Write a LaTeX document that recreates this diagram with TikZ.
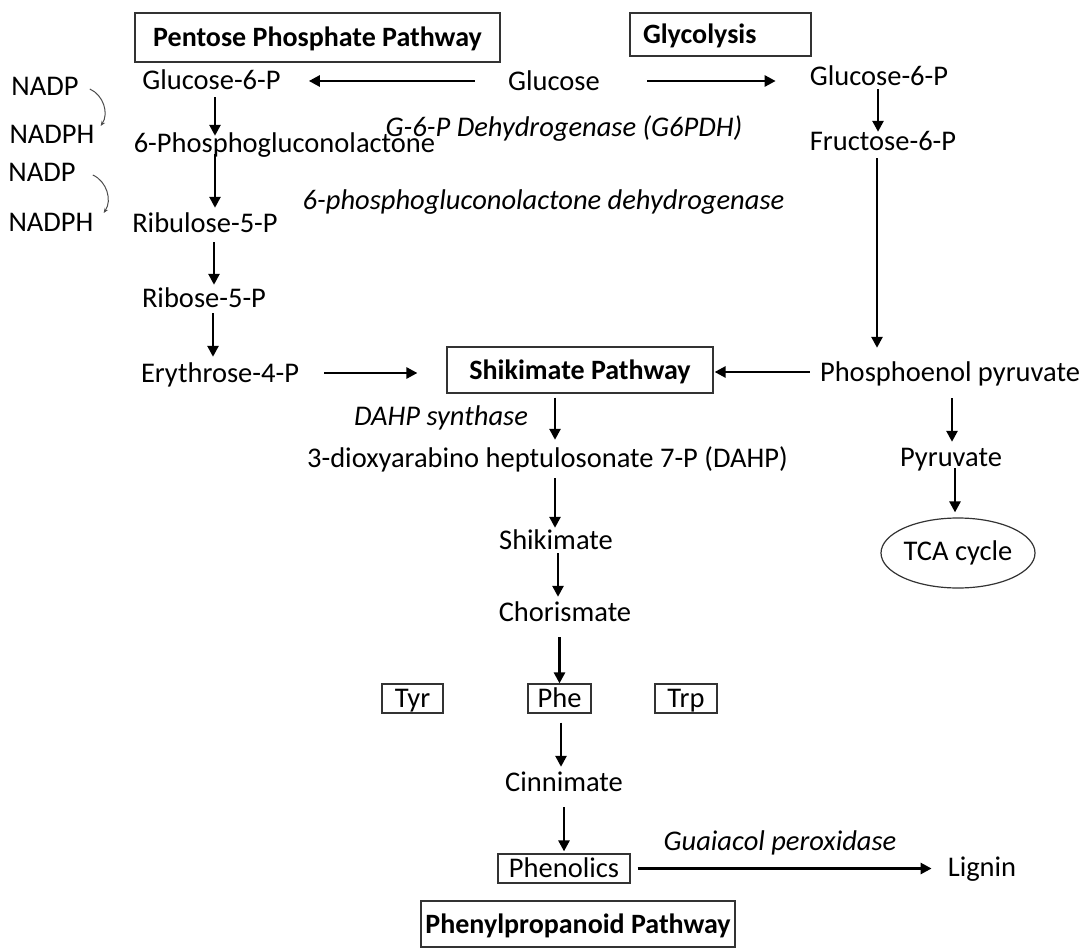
\documentclass[tikz,border=0pt]{standalone}
\usepackage{fontspec}
\setmainfont{Carlito}
\usepackage{tikz}
\usetikzlibrary{arrows.meta,shapes.geometric}

\begin{document}
\begin{tikzpicture}[x=1pt,y=-1pt]
\tikzstyle{every node}+=[inner sep=0pt,font=\fontsize{28.5}{34}\selectfont]
\tikzstyle{txt}=[text height=21.2pt,text depth=2.8pt]
\tikzstyle{enz}=[txt,font=\fontsize{28.5}{34}\selectfont\itshape]
\tikzstyle{box}=[draw=black!80,line width=1.2pt,txt,font=\fontsize{28}{34}\selectfont\bfseries]
\tikzstyle{aa}=[draw=black!80,line width=1.2pt,txt]
\tikzstyle{arr}=[line width=2.6pt,-{Triangle[length=11pt,width=11pt]}]
\tikzstyle{cof}=[black!70,line width=1pt,-{Stealth[length=5pt,width=4pt]}]
\useasboundingbox (0,0) rectangle (1083,949);
\node[box,minimum width=365pt,minimum height=49pt] (ppp) at (317.5,37.5) {Pentose Phosphate Pathway};
\node[box,text width=155pt,inner xsep=13pt,minimum height=43pt] (gly) at (720.5,34.5) {Glycolysis};
\node[txt] (glc) at (554,81) {Glucose};
\node[txt] (g6pL) at (211.5,80) {Glucose-6-P};
\node[txt] (g6pR) at (879,76) {Glucose-6-P};
\node[txt] (f6p) at (883,141) {Fructose-6-P};
\node[txt] (pgl) at (284.5,143) {6-Phosphogluconolactone};
\node[txt] (ribu) at (205,223) {Ribulose-5-P};
\node[txt] (ribo) at (204,298) {Ribose-5-P};
\node[txt] (ery) at (220,373) {Erythrose-4-P};
\node[box,minimum width=266pt,minimum height=46pt] (shik) at (580,370) {Shikimate Pathway};
\node[txt] (pep) at (950,372) {Phosphoenol pyruvate};
\node[txt] (pyr) at (951,457) {Pyruvate};
\node[ellipse,draw=black!80,line width=1.2pt,minimum width=154pt,minimum height=70pt] (tca) at (958,553) {TCA cycle};
\node[txt] (dahp) at (547.5,458) {3-dioxyarabino heptulosonate 7-P (DAHP)};
\node[txt] (skm) at (556,540) {Shikimate};
\node[txt] (chor) at (565,612) {Chorismate};
\node[aa,minimum width=61pt,minimum height=29pt] (tyr) at (412.5,698.5) {Tyr};
\node[aa,minimum width=63pt,minimum height=29pt] (phe) at (559.5,698.5) {Phe};
\node[aa,minimum width=62pt,minimum height=29pt] (trp) at (686,698.5) {Trp};
\node[txt] (cinn) at (564,782) {Cinnimate};
\node[aa,minimum width=132pt,minimum height=29pt] (phen) at (564,868.5) {Phenolics};
\node[txt] (lig) at (982,867) {Lignin};
\node[box,minimum width=314pt,minimum height=46pt] (php) at (578,924) {Phenylpropanoid Pathway};
\node[enz] (g6pdh) at (564,127) {G-6-P Dehydrogenase (G6PDH)};
\node[enz] (pgd) at (543.5,200) {6-phosphogluconolactone dehydrogenase};
\node[enz] (dahps) at (441,416) {DAHP synthase};
\node[enz] (gpx) at (780,841) {Guaiacol peroxidase};
\node[txt] (nadp1) at (45,86) {NADP};
\node[txt] (nadph1) at (52,134) {NADPH};
\node[txt] (nadp2) at (42,172) {NADP};
\node[txt] (nadph2) at (51,222) {NADPH};
\draw[cof] ([shift={(11,3)}]nadp1.east) to[bend left=50] ([shift={(6,-8)}]nadph1.east);
\draw[cof] ([shift={(17,3)}]nadp2.east) to[bend left=50] ([shift={(10,-9)}]nadph2.east);
\draw[arr,shorten <=33pt,shorten >=28pt] (glc.west) -- (glc.west -| g6pL.east);
\draw[arr,shorten <=47pt,shorten >=34pt] (glc.east) -- (glc.east -| g6pR.west);
\draw[arr,shorten <=5pt,shorten >=-5pt] ([xshift=3.5pt]g6pL.south) -- ([xshift=3.5pt]g6pL.south |- pgl.north);
\draw[arr,shorten <=-1pt,shorten >=3pt] ([xshift=10pt]ribu.north |- pgl.south) -- ([xshift=10pt]ribu.north);
\draw[arr,shorten <=7pt,shorten >=1pt] ([xshift=9pt]ribu.south) -- ([xshift=9pt]ribu.south |- ribo.north);
\draw[arr,shorten <=3pt,shorten >=4pt] ([xshift=9pt]ribo.south) -- ([xshift=9pt]ribo.south |- ery.north);
\draw[arr,shorten <=1pt,shorten >=-3pt] ([xshift=-1pt]g6pR.south) -- ([xshift=-1pt]g6pR.south |- f6p.north);
\draw[arr,shorten <=5pt,shorten >=12pt] ([xshift=-6pt]f6p.south) -- ([xshift=-6pt]f6p.south |- pep.north);
\draw[arr,shorten <=14pt,shorten >=3pt] ([xshift=2pt]pep.south) -- ([xshift=2pt]pep.south |- pyr.north);
\draw[arr,shorten <=-1pt,shorten >=5pt] ([xshift=-3pt]tca.north |- pyr.south) -- ([xshift=-3pt]tca.north);
\draw[arr,shorten <=25pt,shorten >=29pt] (ery.east) -- (ery.east -| shik.west);
\draw[arr,shorten <=10pt,shorten >=1pt] (pep.west) -- (pep.west -| shik.east);
\draw[arr,shorten <=4pt,shorten >=6pt] ([xshift=-25pt]shik.south) -- ([xshift=-25pt]shik.south |- dahp.north);
\draw[arr,shorten <=8pt] ([xshift=-1pt]skm.north |- dahp.south) -- ([xshift=-1pt]skm.north);
\draw[arr,shorten <=1pt,shorten >=3pt] ([xshift=2pt]skm.south) -- ([xshift=2pt]skm.south |- chor.north);
\draw[arr,shorten <=13pt] (phe.north |- chor.south) -- (phe.north);
\draw[arr,shorten <=9pt,shorten >=3pt] ([xshift=1.5pt]phe.south) -- ([xshift=1.5pt]phe.south |- cinn.north);
\draw[arr,shorten <=13pt,shorten >=2pt] (cinn.south) -- (cinn.south |- phen.north);
\draw[arr,shorten <=7pt,shorten >=16pt] (phen.east) -- (phen.east -| lig.west);
\end{tikzpicture}
\end{document}
